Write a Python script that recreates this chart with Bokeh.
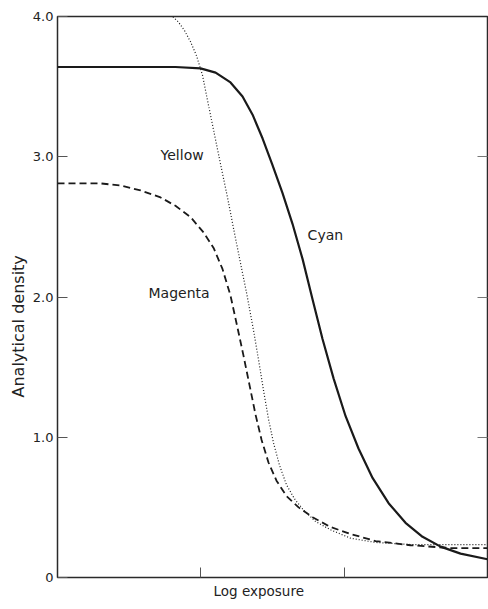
from bokeh.plotting import figure
from bokeh.models import FixedTicker, LinearAxis, Label, Range1d, Title
from bokeh.embed import file_html
from bokeh.resources import INLINE

# Data (x: log exposure in tick units, y: analytical density)
cyan_x = [0.0, 0.823, 0.998, 1.103, 1.207, 1.291, 1.361, 1.431, 1.500, 1.570, 1.640,
          1.710, 1.780, 1.849, 1.926, 2.010, 2.100, 2.198, 2.310, 2.428, 2.547,
          2.673, 2.812, 3.0]
cyan_y = [3.64, 3.64, 3.63, 3.60, 3.53, 3.43, 3.30, 3.13, 2.94, 2.74, 2.52,
          2.27, 1.98, 1.70, 1.42, 1.15, 0.92, 0.71, 0.53, 0.39, 0.29,
          0.22, 0.17, 0.13]

yellow_x = [0.761, 0.803, 0.844, 0.886, 0.928, 0.970, 1.012, 1.047, 1.089, 1.137,
            1.186, 1.228, 1.277, 1.319, 1.368, 1.403, 1.438, 1.472, 1.507, 1.549,
            1.598, 1.654, 1.717, 1.800, 1.905, 2.045, 2.219, 2.463, 3.0]
yellow_y = [4.07, 4.0, 3.96, 3.90, 3.82, 3.72, 3.58, 3.40, 3.19, 2.95,
            2.71, 2.49, 2.24, 2.03, 1.76, 1.55, 1.33, 1.13, 0.96, 0.80,
            0.66, 0.56, 0.48, 0.40, 0.34, 0.28, 0.25, 0.235, 0.235]

magenta_x = [0.0, 0.300, 0.440, 0.579, 0.719, 0.823, 0.928, 1.019, 1.089, 1.151,
             1.207, 1.256, 1.298, 1.340, 1.382, 1.424, 1.472, 1.528, 1.598, 1.682,
             1.780, 1.905, 2.045, 2.219, 2.463, 2.743, 3.0]
magenta_y = [2.81, 2.81, 2.795, 2.76, 2.71, 2.65, 2.57, 2.46, 2.35, 2.20,
             2.01, 1.78, 1.58, 1.37, 1.16, 0.98, 0.82, 0.69, 0.58, 0.50,
             0.43, 0.36, 0.31, 0.26, 0.23, 0.21, 0.21]

y_ticks = [0, 1, 2, 3, 4]
y_tick_labels = {0: "0", 1: "1.0", 2: "2.0", 3: "3.0", 4: "4.0"}
x_ticks = [1, 2]
right_ticks = [1, 2, 3]

FONT = "DejaVu Sans"
INK = "#1a1a1a"
TXT = "#222222"

p = figure(width=488, height=609, output_backend="svg", toolbar_location=None,
           x_range=Range1d(0, 3), y_range=Range1d(0, 4),
           min_border_left=57, min_border_right=1, min_border_top=16, min_border_bottom=32)
p.grid.visible = False
p.background_fill_color = "white"
p.border_fill_color = "white"
p.outline_line_color = "#2a2a2a"
p.outline_line_width = 1.5

# left axis
ya = p.yaxis[0]
ya.ticker = FixedTicker(ticks=y_ticks)
ya.major_label_overrides = y_tick_labels
ya.major_tick_in = 10
ya.major_tick_out = 0
ya.minor_tick_line_color = None
ya.axis_line_color = None
ya.major_tick_line_color = "#555555"
ya.major_label_standoff = 4
ya.major_label_text_font = FONT
ya.major_label_text_font_size = "13px"
ya.major_label_text_color = TXT

# bottom axis (ticks only)
xa = p.xaxis[0]
xa.ticker = FixedTicker(ticks=x_ticks)
xa.major_tick_in = 10
xa.major_tick_out = 0
xa.minor_tick_line_color = None
xa.axis_line_color = None
xa.major_tick_line_color = "#555555"
xa.major_label_text_color = None
xa.major_label_text_font_size = "1px"
xa.major_label_standoff = 0

# right axis with inward ticks
ra = LinearAxis(ticker=FixedTicker(ticks=right_ticks))
ra.major_tick_in = 10
ra.major_tick_out = 0
ra.minor_tick_line_color = None
ra.axis_line_color = None
ra.major_tick_line_color = "#777777"
ra.major_label_text_color = None
ra.major_label_text_font_size = "1px"
ra.major_label_standoff = 0
p.add_layout(ra, "right")

# axis titles
p.add_layout(Title(text="Log exposure", align="left", offset=156, standoff=7,
                   text_font=FONT, text_font_size="13.5px", text_font_style="normal",
                   text_color=TXT), "below")
p.add_layout(Title(text="Analytical density", align="left", offset=180, standoff=4,
                   text_font=FONT, text_font_size="16px", text_font_style="normal",
                   text_color=TXT), "left")

p.line(cyan_x, cyan_y, line_color=INK, line_width=2.2)
p.line(magenta_x, magenta_y, line_color=INK, line_width=1.8, line_dash="7 4")
p.line(yellow_x, yellow_y, line_color=INK, line_width=1.2, line_dash="1 2")

for txt, x, y in [("Yellow", 0.719, 3.01), ("Magenta", 0.635, 2.025), ("Cyan", 1.745, 2.44)]:
    p.add_layout(Label(x=x, y=y, text=txt, text_font=FONT, text_font_size="14px",
                       text_color=TXT, text_baseline="middle", text_align="left"))

open("out.html", "w").write(file_html(p, INLINE))
